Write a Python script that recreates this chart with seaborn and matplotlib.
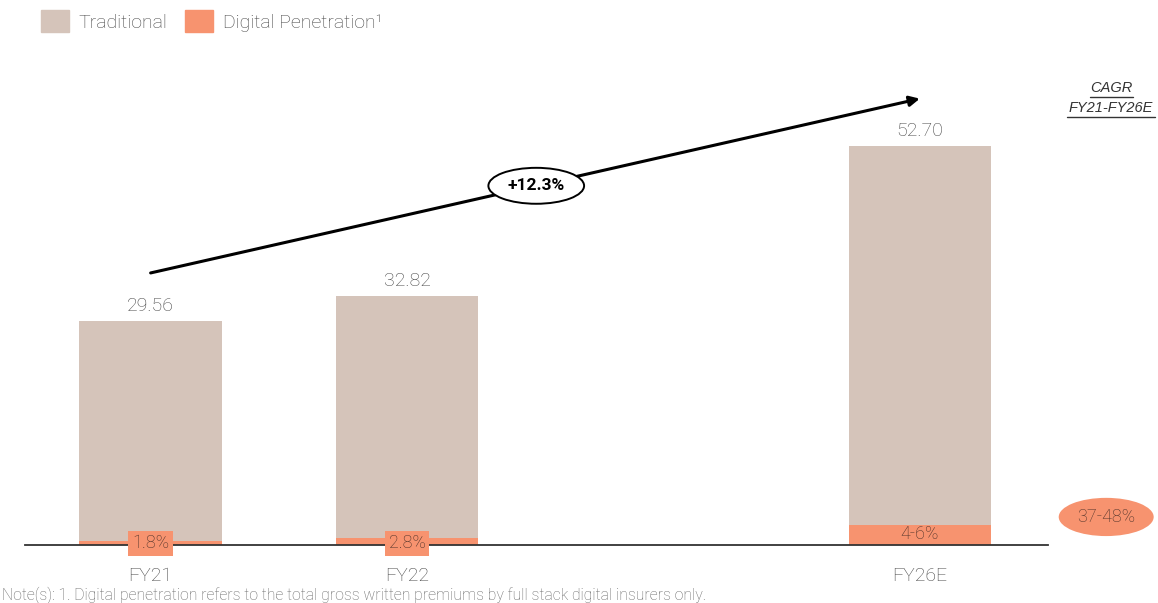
import numpy as np
import pandas as pd
import seaborn as sns
from matplotlib import pyplot as plt
from matplotlib.patches import Patch
from matplotlib.lines import Line2D

# Data
years = ["FY21", "FY22", "FY26E"]
year_pos = [0, 1, 3]
total_gwp = [29.56, 32.82, 52.70]
digital_share = [0.018, 0.028, 0.05]
digital_labels = ["1.8%", "2.8%", "4-6%"]
cagr_label = "+12.3%"
cagr_digital = "37-48%"

TRAD = "#D5C4BA"
DIGI = "#F7936F"
GREY = "#444444"
BROWN = "#4a3028"

sns.set_style("white")
plt.rcParams["font.family"] = ["Roboto", "DejaVu Sans"]

df = pd.DataFrame({
    "pos": year_pos,
    "total": total_gwp,
    "digital": [t * s for t, s in zip(total_gwp, digital_share)],
})

fig = plt.figure(figsize=(11.58, 6.03), dpi=100)
ax = fig.add_axes([25 / 1158, 1 - 545 / 603, (1048 - 25) / 1158, 485 / 603])

sns.barplot(data=df, x="pos", y="total", native_scale=True, width=0.555,
            color=TRAD, saturation=1, linewidth=0, ax=ax)
sns.barplot(data=df, x="pos", y="digital", native_scale=True, width=0.555,
            color=DIGI, saturation=1, linewidth=0, ax=ax)

ax.set_xlim(-0.49, 3.5)
ax.set_ylim(0, 64)
ax.set_xticks(year_pos)
ax.set_xticklabels(years, fontsize=14, color=GREY, fontweight="light")
ax.tick_params(axis="x", length=0, pad=16)
ax.set_yticks([])
ax.set_xlabel("")
ax.set_ylabel("")
for s in ["top", "right", "left"]:
    ax.spines[s].set_visible(False)
ax.spines["bottom"].set_color("#333333")
ax.spines["bottom"].set_linewidth(1.3)
ax.spines["bottom"].set_zorder(4)

# total labels
for x, t in zip(year_pos, total_gwp):
    ax.text(x, t + 0.8, f"{t:.2f}", ha="center", va="bottom",
            fontsize=14, color=GREY, fontweight="light")

# digital share labels
for i, (x, lab) in enumerate(zip(year_pos, digital_labels)):
    if i < 2:
        ax.text(x, 0.2, lab, ha="center", va="center", fontsize=13,
                color=BROWN, fontweight="light", clip_on=False, zorder=5,
                bbox=dict(boxstyle="square,pad=0.2", fc=DIGI, ec="none"))
    else:
        ax.text(x, df["digital"][i] / 2 + 0.2, lab, ha="center", va="center",
                fontsize=13, color=BROWN, fontweight="light", zorder=5)

# CAGR arrow
ax.annotate("", xy=(3.0, 58.9), xytext=(0.0, 35.9),
            arrowprops=dict(arrowstyle="-|>", color="black", lw=2.2,
                            mutation_scale=15, shrinkA=0, shrinkB=0),
            annotation_clip=False)
ax.text(1.504, 47.4, cagr_label, ha="center", va="center", fontsize=12.5,
        fontweight="bold", color="black", zorder=6,
        bbox=dict(boxstyle="ellipse,pad=0.3", fc="white", ec="black", lw=1.4))

# digital CAGR ellipse
ax.text(3.727, 3.7, cagr_digital, ha="center", va="center", fontsize=13,
        color=BROWN, fontweight="light", clip_on=False,
        bbox=dict(boxstyle="ellipse,pad=0.25", fc=DIGI, ec="none"))

# CAGR header
hx = 1111 / 1158
fig.text(hx, 1 - 88 / 603, "CAGR", ha="center", va="center",
         fontsize=10.5, style="italic", color="#333333",
         family=["Liberation Sans", "DejaVu Sans"])
fig.text(hx, 1 - 108 / 603, "FY21-FY26E", ha="center", va="center",
         fontsize=10.5, style="italic", color="#333333",
         family=["Liberation Sans", "DejaVu Sans"])
fig.add_artist(Line2D([1090 / 1158, 1133 / 1158], [1 - 97 / 603, 1 - 97 / 603],
                      color="#333333", lw=1))
fig.add_artist(Line2D([1067 / 1158, 1155 / 1158], [1 - 117 / 603, 1 - 117 / 603],
                      color="#333333", lw=1))

# legend
handles = [Patch(color=TRAD, label="Traditional"),
           Patch(color=DIGI, label="Digital Penetration¹")]
leg = fig.legend(handles=handles, loc="upper left", bbox_to_anchor=(0.02, 1.012),
                 ncol=2, frameon=False, fontsize=14, handlelength=1.45,
                 handleheight=1.35, handletextpad=0.5, columnspacing=0.9)
for t in leg.get_texts():
    t.set_color(GREY)
    t.set_fontweight("light")

# footnote
fig.text(0.002, 1 - 595 / 603,
         "Note(s): 1. Digital penetration refers to the total gross written premiums by full stack digital insurers only.",
         ha="left", va="center", fontsize=11.3, color="#666666", fontweight="light")

plt.savefig("out.png", dpi=100)
